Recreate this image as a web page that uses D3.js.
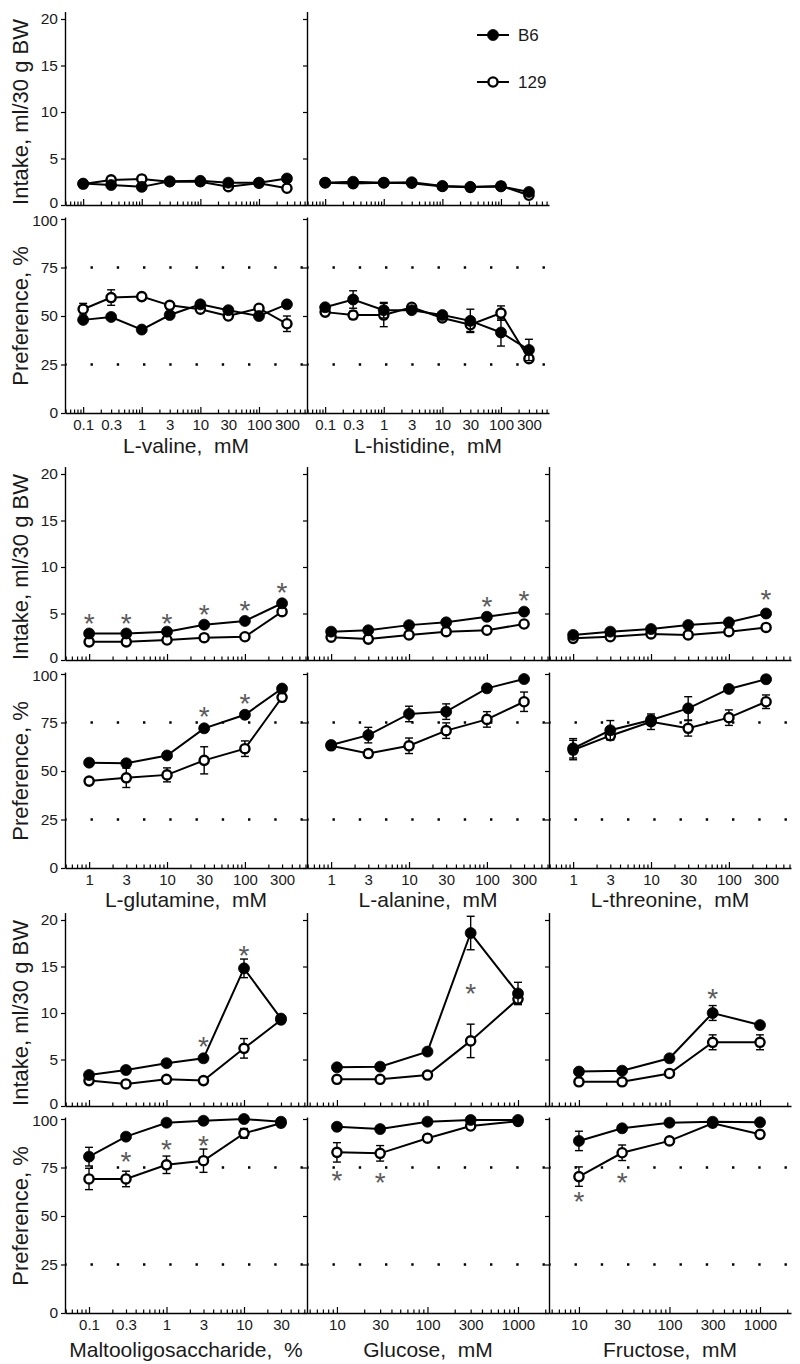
<!DOCTYPE html>
<html><head><meta charset="utf-8">
<script src="https://cdn.jsdelivr.net/npm/d3@7"></script>
<style>
body{margin:0;background:#fff}
svg text{font-family:"Liberation Sans",Arial,sans-serif;fill:#1a1a1a}
</style>
</head><body>
<svg id="chart" width="800" height="1364"></svg>
<script>
// ---------------- DATA ----------------
const seriesNames = ["B6", "129"];

// Row 1
const valineConc = [0.1, 0.3, 1, 3, 10, 30, 100, 300];
const valineIntakeB6 = [2.3, 2.15, 1.95, 2.55, 2.6, 2.4, 2.4, 2.85];
const valineIntake129 = [2.25, 2.7, 2.8, 2.5, 2.5, 1.97, 2.35, 1.8];
const valinePrefB6 = [48, 49.5, 43, 50.5, 56, 53, 50, 56];
const valinePrefB6Err = [1, 1, 1, 1, 1, 1, 1, 1];
const valinePref129 = [53.5, 59.5, 60, 55.5, 53.5, 50, 54, 46];
const valinePref129Err = [3, 4, 1, 1.5, 1, 1, 1, 4];

const histidineConc = [0.1, 0.3, 1, 3, 10, 30, 100, 300];
const histidineIntakeB6 = [2.4, 2.5, 2.4, 2.45, 2.05, 1.95, 2.0, 1.4];
const histidineIntake129 = [2.4, 2.3, 2.4, 2.35, 2.0, 1.9, 2.05, 1.05];
const histidinePrefB6 = [54.5, 58.5, 53, 53, 50.5, 47.5, 41.5, 32.5];
const histidinePrefB6Err = [1, 4.5, 4, 1, 1, 6, 7, 5.5];
const histidinePref129 = [52, 50.5, 50.5, 54.5, 49, 45.5, 51.5, 28];
const histidinePref129Err = [1, 2, 6, 1, 1, 3.5, 3.7, 1.5];

// Row 2
const glutamineConc = [1, 3, 10, 30, 100, 300];
const glutamineIntakeB6 = [2.85, 2.85, 3.05, 3.8, 4.2, 6.1];
const glutamineIntake129 = [1.95, 1.95, 2.15, 2.4, 2.5, 5.2];
const glutaminePrefB6 = [54.3, 54, 58, 72, 79, 92.5];
const glutaminePrefB6Err = [1, 1, 1, 1, 1, 1];
const glutaminePref129 = [44.8, 46.5, 48, 55.5, 61.5, 88];
const glutaminePref129Err = [1.5, 5, 3.6, 7, 4, 1.5];
const glutamineIntakeStars = [[1, 4.6], [3, 4.6], [10, 4.6], [30, 5.6], [100, 6.0], [300, 8.0]];
const glutaminePrefStars = [[30, 81.4], [100, 88.3]];

const alanineConc = [1, 3, 10, 30, 100, 300];
const alanineIntakeB6 = [3.05, 3.2, 3.75, 4.05, 4.65, 5.2];
const alanineIntake129 = [2.45, 2.25, 2.7, 3.05, 3.2, 3.87];
const alaninePrefB6 = [63.4, 68.5, 79.4, 80.6, 92.6, 97.4];
const alaninePrefB6Err = [1, 4, 4, 4, 1, 1];
const alaninePref129 = [63, 59, 63, 70.8, 76.6, 85.7];
const alaninePref129Err = [1, 2, 4, 4, 4, 5];
const alanineIntakeStars = [[100, 6.45], [300, 7.1]];

const threonineConc = [1, 3, 10, 30, 100, 300];
const threonineIntakeB6 = [2.7, 3.05, 3.33, 3.76, 4.05, 5.0];
const threonineIntake129 = [2.33, 2.5, 2.8, 2.7, 3.05, 3.5];
const threoninePrefB6 = [61.7, 71, 76.3, 82.3, 92.3, 97.3];
const threoninePrefB6Err = [5, 5, 2, 6, 1, 1];
const threoninePref129 = [60.8, 68.2, 75.4, 72, 77.5, 85.7];
const threoninePref129Err = [5, 2, 4, 4, 4, 3.5];
const threonineIntakeStars = [[300, 7.2]];

// Row 3
const maltoConc = [0.1, 0.3, 1, 3, 10, 30];
const maltoIntakeB6 = [3.33, 3.87, 4.6, 5.13, 14.8, 9.4];
const maltoIntakeB6Err = [0.2, 0.2, 0.2, 0.2, 1.0, 0.3];
const maltoIntake129 = [2.73, 2.37, 2.87, 2.73, 6.2, 9.25];
const maltoIntake129Err = [0.2, 0.2, 0.2, 0.2, 1.05, 0.3];
const maltoPrefB6 = [80.6, 90.9, 98.1, 99.1, 100, 98.6];
const maltoPrefB6Err = [4.8, 1, 1, 1, 1, 1];
const maltoPref129 = [69.1, 69.1, 76.4, 78.5, 92.6, 97.8];
const maltoPref129Err = [5.5, 4, 4.5, 6, 2.5, 1];
const maltoIntakeStars = [[3, 7.1], [10, 16.95]];
const maltoPrefStars = [[0.3, 81.4], [1, 87.8], [3, 90]];

const glucoseConc = [10, 30, 100, 300, 1000];
const glucoseIntakeB6 = [4.16, 4.23, 5.85, 18.6, 12.1];
const glucoseIntakeB6Err = [0, 0, 0, 1.8, 1.2];
const glucoseIntake129 = [2.87, 2.87, 3.33, 7.0, 11.5];
const glucoseIntake129Err = [0, 0, 0, 1.8, 0.5];
const glucosePrefB6 = [96, 94.8, 98.6, 99.5, 99.5];
const glucosePrefB6Err = [1, 1, 1, 1, 1];
const glucosePref129 = [82.8, 82.3, 90.1, 96.4, 98.8];
const glucosePref129Err = [5, 4, 1, 1, 1];
const glucoseIntakeStars = [[300, 12.8]];
const glucosePrefStars = [[10, 72.0], [30, 70.6]];

const fructoseConc = [10, 30, 100, 300, 1000];
const fructoseIntakeB6 = [3.7, 3.8, 5.13, 10.0, 8.7];
const fructoseIntakeB6Err = [0, 0, 0, 0.8, 0.2];
const fructoseIntake129 = [2.6, 2.6, 3.5, 6.85, 6.85];
const fructoseIntake129Err = [0, 0, 0, 0.8, 0.8];
const fructosePrefB6 = [88.7, 95.2, 98.1, 98.6, 98.3];
const fructosePrefB6Err = [5, 1, 1, 1, 1];
const fructosePref129 = [70.3, 82.6, 88.7, 97.8, 92.1];
const fructosePref129Err = [5, 4, 1, 1, 1.5];
const fructoseIntakeStars = [[300, 12.3]];
const fructosePrefStars = [[10, 60.8], [30, 70.6]];

const intakeTicks = [0, 5, 10, 15, 20];
const prefTicks = [0, 25, 50, 75, 100];
const prefRefLines = [25, 75];

// x-axis extents (log scale) per panel
const xDomRow1 = [0.049, 660];
const xDomRow2 = [0.49, 627];
const xDomMalto = [0.049, 65];
const xDomSugar = [4.67, 2200];

// ---------------- LAYOUT ----------------
const W = 242;
const colX = [65, 307, 549];
const rowGeom = [
  {i0: 205, i20: 19, p0: 413, p100: 219, t: 453},
  {i0: 660, i20: 474, p0: 868, p100: 674, t: 907},
  {i0: 1106, i20: 920, p0: 1313, p100: 1119, t: 1357}
];
const zeros = n => new Array(n).fill(0);

const panels = [
  {row:0, col:0, title:"L-valine,  mM", conc:valineConc, xDom:xDomRow1,
   iB6:valineIntakeB6, iB6e:zeros(8), i129:valineIntake129, i129e:zeros(8),
   pB6:valinePrefB6, pB6e:valinePrefB6Err, p129:valinePref129, p129e:valinePref129Err, iStars:[], pStars:[]},
  {row:0, col:1, title:"L-histidine,  mM", conc:histidineConc, xDom:xDomRow1,
   iB6:histidineIntakeB6, iB6e:zeros(8), i129:histidineIntake129, i129e:zeros(8),
   pB6:histidinePrefB6, pB6e:histidinePrefB6Err, p129:histidinePref129, p129e:histidinePref129Err, iStars:[], pStars:[]},
  {row:1, col:0, title:"L-glutamine,  mM", conc:glutamineConc, xDom:xDomRow2,
   iB6:glutamineIntakeB6, iB6e:zeros(6), i129:glutamineIntake129, i129e:zeros(6),
   pB6:glutaminePrefB6, pB6e:glutaminePrefB6Err, p129:glutaminePref129, p129e:glutaminePref129Err,
   iStars:glutamineIntakeStars, pStars:glutaminePrefStars},
  {row:1, col:1, title:"L-alanine,  mM", conc:alanineConc, xDom:xDomRow2,
   iB6:alanineIntakeB6, iB6e:zeros(6), i129:alanineIntake129, i129e:zeros(6),
   pB6:alaninePrefB6, pB6e:alaninePrefB6Err, p129:alaninePref129, p129e:alaninePref129Err,
   iStars:alanineIntakeStars, pStars:[]},
  {row:1, col:2, title:"L-threonine,  mM", conc:threonineConc, xDom:xDomRow2,
   iB6:threonineIntakeB6, iB6e:zeros(6), i129:threonineIntake129, i129e:zeros(6),
   pB6:threoninePrefB6, pB6e:threoninePrefB6Err, p129:threoninePref129, p129e:threoninePref129Err,
   iStars:threonineIntakeStars, pStars:[]},
  {row:2, col:0, title:"Maltooligosaccharide,  %", conc:maltoConc, xDom:xDomMalto,
   iB6:maltoIntakeB6, iB6e:maltoIntakeB6Err, i129:maltoIntake129, i129e:maltoIntake129Err,
   pB6:maltoPrefB6, pB6e:maltoPrefB6Err, p129:maltoPref129, p129e:maltoPref129Err,
   iStars:maltoIntakeStars, pStars:maltoPrefStars},
  {row:2, col:1, title:"Glucose,  mM", conc:glucoseConc, xDom:xDomSugar,
   iB6:glucoseIntakeB6, iB6e:glucoseIntakeB6Err, i129:glucoseIntake129, i129e:glucoseIntake129Err,
   pB6:glucosePrefB6, pB6e:glucosePrefB6Err, p129:glucosePref129, p129e:glucosePref129Err,
   iStars:glucoseIntakeStars, pStars:glucosePrefStars},
  {row:2, col:2, title:"Fructose,  mM", conc:fructoseConc, xDom:xDomSugar,
   iB6:fructoseIntakeB6, iB6e:fructoseIntakeB6Err, i129:fructoseIntake129, i129e:fructoseIntake129Err,
   pB6:fructosePrefB6, pB6e:fructosePrefB6Err, p129:fructosePref129, p129e:fructosePref129Err,
   iStars:fructoseIntakeStars, pStars:fructosePrefStars}
];

const svg = d3.select("#chart");
const fmt = v => (v < 1 ? String(v) : d3.format("d")(v));

function logTicks(dom) {
  const major = [], minor = [];
  for (let e = Math.floor(Math.log10(dom[0])); e <= Math.ceil(Math.log10(dom[1])); e++) {
    for (let k = 1; k <= 9; k++) {
      const v = +(k * Math.pow(10, e)).toPrecision(6);
      if (v >= dom[0] && v <= dom[1]) (k === 1 ? major : minor).push(v);
    }
  }
  return {major, minor};
}

function styleAxis(g) {
  g.attr("font-family", null).attr("font-size", null);
  g.selectAll("path.domain").attr("stroke", "#000").attr("stroke-width", 1.4);
  g.selectAll(".tick line").attr("stroke", "#000").attr("stroke-width", 1.2);
}

function drawXAxis(x, y0, withLabels, conc) {
  const lt = logTicks(x.domain());
  const gMinor = svg.append("g").attr("transform", `translate(0,${y0})`)
    .call(d3.axisBottom(x).tickValues(lt.minor).tickSize(-3.5).tickSizeOuter(0).tickFormat(""));
  styleAxis(gMinor);
  const gMajor = svg.append("g").attr("transform", `translate(0,${y0})`)
    .call(d3.axisBottom(x).tickValues(lt.major).tickSize(-6).tickSizeOuter(0).tickFormat(""));
  styleAxis(gMajor);
  gMajor.select("path.domain").remove();
  if (withLabels) {
    const gl = svg.append("g").attr("transform", `translate(0,${y0})`)
      .call(d3.axisBottom(x).tickValues(conc).tickSize(0).tickPadding(6).tickFormat(fmt));
    styleAxis(gl);
    gl.select("path.domain").remove();
    gl.selectAll("text").attr("font-size", 15).attr("fill", "#1a1a1a");
  }
}

// shift: small vertical nudge applied to the label at the given tick value
function drawYAxis(y, x0, ticks, withLabels, nudgeTick, nudge) {
  const g = svg.append("g").attr("transform", `translate(${x0},0)`)
    .call(d3.axisLeft(y).tickValues(ticks).tickSize(4).tickPadding(3).tickSizeOuter(0)
      .tickFormat(withLabels ? d3.format("d") : ""));
  styleAxis(g);
  g.selectAll("text").attr("font-size", 15.5).attr("fill", "#1a1a1a")
    .attr("y", d => (d === nudgeTick ? nudge : 0));
}

function drawSeries(x, y, conc, vals, errs, filled) {
  const pts = conc.map((c, i) => ({c, v: vals[i], e: errs[i]}));
  const g = svg.append("g");
  g.append("path").datum(pts)
    .attr("fill", "none").attr("stroke", "#000").attr("stroke-width", 2)
    .attr("d", d3.line().x(d => x(d.c)).y(d => y(d.v)));
  const eb = g.selectAll(".eb").data(pts.filter(d => d.e > 0)).join("g")
    .attr("stroke", "#000").attr("stroke-width", 1.4);
  eb.append("line").attr("x1", d => x(d.c)).attr("x2", d => x(d.c))
    .attr("y1", d => y(d.v - d.e)).attr("y2", d => y(d.v + d.e));
  eb.append("line").attr("x1", d => x(d.c) - 4).attr("x2", d => x(d.c) + 4)
    .attr("y1", d => y(d.v + d.e)).attr("y2", d => y(d.v + d.e));
  eb.append("line").attr("x1", d => x(d.c) - 4).attr("x2", d => x(d.c) + 4)
    .attr("y1", d => y(d.v - d.e)).attr("y2", d => y(d.v - d.e));
  g.selectAll("circle").data(pts).join("circle")
    .attr("cx", d => x(d.c)).attr("cy", d => y(d.v))
    .attr("r", filled ? 5.5 : 4.6)
    .attr("fill", filled ? "#000" : "#fff")
    .attr("stroke", "#000").attr("stroke-width", filled ? 0.8 : 2.4);
}

function drawStars(x, y, stars) {
  svg.append("g").selectAll("text").data(stars).join("text")
    .attr("x", d => x(d[0])).attr("y", d => y(d[1]))
    .attr("dy", "0.58em").attr("text-anchor", "middle")
    .attr("font-size", 28).style("fill", "#5a5a5a").text("*");
}

panels.forEach(p => {
  const g = rowGeom[p.row], x0 = colX[p.col];
  const x = d3.scaleLog().domain(p.xDom).range([x0, x0 + W]);
  const kI = (g.i0 - g.i20) / 20;
  const yI = d3.scaleLinear().domain([0, 20.8]).range([g.i0, g.i0 - 20.8 * kI]);
  const kP = (g.p0 - g.p100) / 100;
  const yP = d3.scaleLinear().domain([0, 101]).range([g.p0, g.p0 - 101 * kP]);

  // reference dotted lines
  svg.append("g").selectAll("line").data(prefRefLines).join("line")
    .attr("x1", x0).attr("x2", x0 + W)
    .attr("y1", d => yP(d)).attr("y2", d => yP(d))
    .attr("stroke", "#000").attr("stroke-width", 2.4)
    .attr("stroke-dasharray", "2.4 23.85").attr("stroke-dashoffset", -25.5);

  drawYAxis(yI, x0, intakeTicks, p.col === 0, 0, -2.5);
  drawYAxis(yP, x0, prefTicks, p.col === 0, 100, 1.5);
  drawXAxis(x, g.i0, false, p.conc);
  drawXAxis(x, g.p0, true, p.conc);

  drawSeries(x, yI, p.conc, p.i129, p.i129e, false);
  drawSeries(x, yI, p.conc, p.iB6, p.iB6e, true);
  drawSeries(x, yP, p.conc, p.p129, p.p129e, false);
  drawSeries(x, yP, p.conc, p.pB6, p.pB6e, true);
  drawStars(x, yI, p.iStars);
  drawStars(x, yP, p.pStars);

  svg.append("text").attr("x", x0 + W / 2).attr("y", g.t)
    .attr("text-anchor", "middle").attr("font-size", 21).style("white-space", "pre")
    .text(p.title);

  if (p.col === 0) {
    svg.append("text").attr("transform", `translate(28,${(g.i0 + g.i20) / 2}) rotate(-90)`)
      .attr("text-anchor", "middle").attr("font-size", 22).text("Intake, ml/30 g BW");
    svg.append("text").attr("transform", `translate(28,${(g.p0 + g.p100) / 2}) rotate(-90)`)
      .attr("text-anchor", "middle").attr("font-size", 22).text("Preference, %");
  }
});

// legend
const legend = svg.append("g");
seriesNames.forEach((name, i) => {
  const ly = 35 + i * 47;
  legend.append("line").attr("x1", 477).attr("x2", 509).attr("y1", ly).attr("y2", ly)
    .attr("stroke", "#000").attr("stroke-width", 2);
  legend.append("circle").attr("cx", 493).attr("cy", ly).attr("r", i === 0 ? 5.5 : 4.6)
    .attr("fill", i === 0 ? "#000" : "#fff").attr("stroke", "#000").attr("stroke-width", i === 0 ? 0.8 : 2.4);
  legend.append("text").attr("x", 518).attr("y", ly).attr("dy", "0.36em")
    .attr("font-size", 17).text(name);
});
</script>
</body></html>
